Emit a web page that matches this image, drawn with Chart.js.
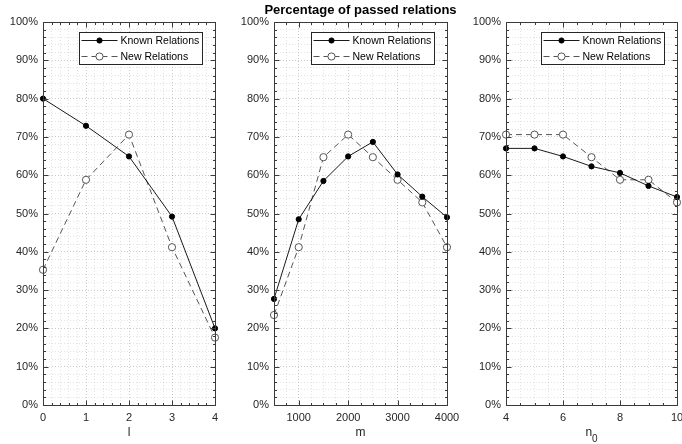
<!DOCTYPE html>
<html>
<head>
<meta charset="utf-8">
<script src="https://cdn.jsdelivr.net/npm/chart.js@4/dist/chart.umd.min.js"></script>
<style>
  html, body { margin: 0; padding: 0; background: #fff; width: 682px; height: 444px; overflow: hidden; }
  .wrap { position: absolute; top: 0; height: 444px; }
  canvas { display: block; }
</style>
</head>
<body>
<div class="wrap" style="left:0px;width:228px"><canvas id="c1" width="228" height="444"></canvas></div>
<div class="wrap" style="left:238px;width:244px"><canvas id="c2" width="244" height="444"></canvas></div>
<div class="wrap" style="left:460px;width:230px"><canvas id="c3" width="230" height="444"></canvas></div>
<script>
// ---------------- data ----------------
const seriesNames = ['Known Relations', 'New Relations'];
const yTickLabels = ['0%', '10%', '20%', '30%', '40%', '50%', '60%', '70%', '80%', '90%', '100%'];

const lValues = [0, 1, 2, 3, 4];
const knownByL = [80.0, 72.9, 64.9, 49.2, 20.0];
const newByL = [35.3, 58.8, 70.6, 41.2, 17.6];

const mValues = [500, 1000, 1500, 2000, 2500, 3000, 3500, 4000];
const knownByM = [27.7, 48.5, 58.5, 64.9, 68.7, 60.2, 54.4, 49.0];
const newByM = [23.5, 41.2, 64.7, 70.6, 64.7, 58.8, 52.9, 41.2];

const n0Values = [4, 5, 6, 7, 8, 9, 10];
const knownByN0 = [67.0, 67.0, 64.9, 62.3, 60.6, 57.2, 54.3];
const newByN0 = [70.6, 70.6, 70.6, 64.7, 58.8, 58.8, 52.9];

// axis titles: [main text, subscript]
const xTitles = [['l', ''], ['m', ''], ['n', '0']];
const chartTitle = 'Percentage of passed relations';

// ---------------- styling helpers ----------------
const FONT = '"Liberation Sans", Arial, Helvetica, sans-serif';
const AXIS = '#3a3a3a';
const TXT = '#262626';

function isMajor(v, step) {
  const r = v / step;
  return Math.abs(r - Math.round(r)) < 1e-6;
}
function pts(xs, ys) { return xs.map((x, i) => ({ x: x, y: ys[i] })); }

const matlabAxes = {
  id: 'matlabAxes',
  afterDatasetsDraw(chart, args, opts) {
    const { ctx, chartArea: a, scales } = chart;
    const xs = scales.x, ys = scales.y;
    ctx.save();
    ctx.strokeStyle = AXIS;
    ctx.lineWidth = 1;
    ctx.setLineDash([]);
    const L = Math.round(a.left) + 0.5, R = Math.round(a.right) + 0.5;
    const T = Math.round(a.top) + 0.5, B = Math.round(a.bottom) + 0.5;
    ctx.beginPath();
    xs.ticks.forEach(t => {
      const px = Math.round(xs.getPixelForValue(t.value)) + 0.5;
      const len = isMajor(t.value, opts.xMajor) ? 5 : 2.5;
      ctx.moveTo(px, B); ctx.lineTo(px, B - len);
      ctx.moveTo(px, T); ctx.lineTo(px, T + len);
    });
    ys.ticks.forEach(t => {
      const py = Math.round(ys.getPixelForValue(t.value)) + 0.5;
      const len = isMajor(t.value, opts.yMajor) ? 5 : 2.5;
      ctx.moveTo(L, py); ctx.lineTo(L + len, py);
      ctx.moveTo(R, py); ctx.lineTo(R - len, py);
    });
    ctx.stroke();
    ctx.strokeRect(L, T, R - L, B - T);

    // overall title, centred over this plot area
    if (opts.title) {
      ctx.fillStyle = '#000';
      ctx.font = 'bold 13px ' + FONT;
      ctx.textAlign = 'center';
      ctx.textBaseline = 'middle';
      ctx.fillText(opts.title, (a.left + a.right) / 2, 10);
    }

    // x axis title (with optional subscript)
    const main = opts.xTitle[0], sub = opts.xTitle[1];
    ctx.fillStyle = TXT;
    ctx.textBaseline = 'middle';
    ctx.textAlign = 'left';
    ctx.font = '12px ' + FONT;
    const wMain = ctx.measureText(main).width;
    ctx.font = '10px ' + FONT;
    const wSub = sub ? ctx.measureText(sub).width : 0;
    let tx = (a.left + a.right) / 2 - (wMain + wSub) / 2;
    ctx.font = '12px ' + FONT;
    ctx.fillText(main, tx, 433);
    if (sub) {
      ctx.font = '10px ' + FONT;
      ctx.fillText(sub, tx + wMain, 439);
    }

    // legend box
    const w = 123, h = 32;
    const x0 = Math.round(a.right - 13 - w) + 0.5;
    const y0 = Math.round(a.top + 10) + 0.5;
    ctx.fillStyle = '#fff';
    ctx.fillRect(x0, y0, w, h);
    ctx.strokeStyle = '#262626';
    ctx.strokeRect(x0, y0, w, h);
    const dsets = chart.data.datasets;
    dsets.forEach((ds, i) => {
      const yy = y0 + 8 + i * 16;
      ctx.save();
      ctx.strokeStyle = ds.borderColor;
      ctx.lineWidth = ds.borderWidth;
      ctx.setLineDash(ds.borderDash || []);
      ctx.beginPath();
      ctx.moveTo(x0 + 2, yy); ctx.lineTo(x0 + 38, yy);
      ctx.stroke();
      ctx.setLineDash([]);
      ctx.beginPath();
      ctx.arc(x0 + 20, yy, ds.pointRadius, 0, Math.PI * 2);
      ctx.fillStyle = ds.pointBackgroundColor;
      ctx.fill();
      ctx.strokeStyle = ds.pointBorderColor;
      ctx.lineWidth = 1;
      ctx.stroke();
      ctx.restore();
      ctx.fillStyle = '#000';
      ctx.font = '10.5px ' + FONT;
      ctx.textBaseline = 'middle';
      ctx.textAlign = 'left';
      ctx.fillText(ds.label, x0 + 41, yy + 0.5);
    });
    ctx.restore();
  }
};

function makeChart(id, xVals, known, neu, xMin, xMax, xStep, xMajor, yWidth, padRight, xTitle, title) {
  const gridColor = (major) => major ? 'rgba(0,0,0,0.20)' : 'rgba(0,0,0,0.11)';
  return new Chart(document.getElementById(id), {
    type: 'line',
    data: {
      datasets: [
        {
          label: seriesNames[0],
          data: pts(xVals, known),
          borderColor: '#1a1a1a',
          borderWidth: 1,
          pointRadius: 2.6,
          pointBackgroundColor: '#000000',
          pointBorderColor: '#000000',
          pointBorderWidth: 1,
          fill: false,
          tension: 0,
          clip: false
        },
        {
          label: seriesNames[1],
          data: pts(xVals, neu),
          borderColor: '#555555',
          borderWidth: 1,
          borderDash: [6, 4],
          pointRadius: 3.6,
          pointBackgroundColor: '#ffffff',
          pointBorderColor: '#555555',
          pointBorderWidth: 1,
          fill: false,
          tension: 0,
          clip: false
        }
      ]
    },
    options: {
      responsive: false,
      animation: false,
      events: [],
      layout: { padding: { top: 22, right: padRight, left: 0, bottom: 0 } },
      plugins: {
        legend: { display: false },
        tooltip: { enabled: false },
        title: { display: false },
        matlabAxes: { xMajor: xMajor, yMajor: 10, xTitle: xTitle, title: title }
      },
      scales: {
        x: {
          type: 'linear',
          min: xMin, max: xMax,
          afterFit: (s) => { s.height = 39; },
          ticks: {
            stepSize: xStep,
            autoSkip: false,
            maxRotation: 0,
            padding: 6,
            color: TXT,
            font: { family: FONT, size: 11 },
            callback: (v) => isMajor(v, xMajor) ? String(Math.round(v)) : ''
          },
          grid: {
            drawTicks: false,
            lineWidth: 1,
            color: (c) => gridColor(c.tick && isMajor(c.tick.value, xMajor))
          },
          border: { display: false, dash: [1, 2] },
          title: { display: false }
        },
        y: {
          type: 'linear',
          min: 0, max: 100,
          afterFit: (s) => { s.width = yWidth; },
          ticks: {
            stepSize: 2,
            autoSkip: false,
            padding: 5,
            color: TXT,
            font: { family: FONT, size: 11 },
            callback: (v) => isMajor(v, 10) ? yTickLabels[Math.round(v / 10)] : ''
          },
          grid: {
            drawTicks: false,
            lineWidth: 1,
            color: (c) => gridColor(c.tick && isMajor(c.tick.value, 10))
          },
          border: { display: false, dash: [1, 2] }
        }
      }
    },
    plugins: [matlabAxes]
  });
}

makeChart('c1', lValues, knownByL, newByL, 0, 4, 0.2, 1, 43, 13, xTitles[0], '');
makeChart('c2', mValues, knownByM, newByM, 500, 4000, 250, 1000, 36, 35, xTitles[1], chartTitle);
makeChart('c3', n0Values, knownByN0, newByN0, 4, 10, 0.5, 2, 46, 13, xTitles[2], '');
</script>
</body>
</html>
